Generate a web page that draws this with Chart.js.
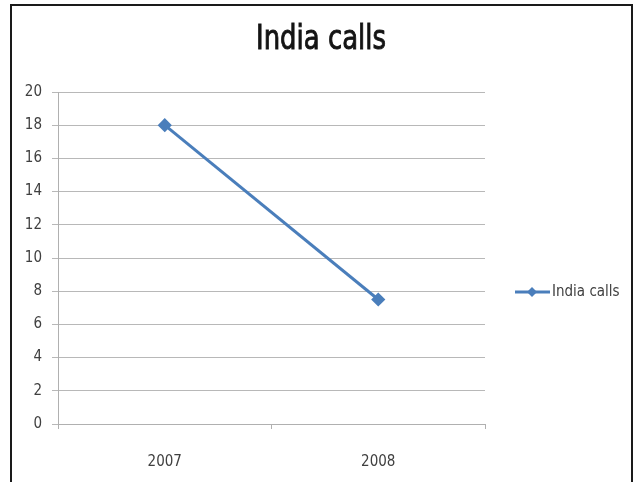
<!DOCTYPE html>
<html>
<head>
<meta charset="utf-8">
<script src="https://cdn.jsdelivr.net/npm/chart.js@4/dist/chart.umd.min.js"></script>
<style>
html,body{margin:0;padding:0;background:#fff;}
#wrap{position:relative;width:640px;height:482px;overflow:hidden;}
#frame{position:absolute;left:10px;top:4px;width:623px;height:490px;border:2px solid #1a1a1a;box-sizing:border-box;pointer-events:none;}
canvas{position:absolute;left:0;top:0;}
</style>
</head>
<body>
<div id="wrap">
<canvas id="c" width="640" height="482"></canvas>
<div id="frame"></div>
</div>
<script>
const chartTitle = "India calls";
const categories = ["2007", "2008"];
const seriesName = "India calls";
const seriesValues = [18, 7.5];
const yTicks = [0, 2, 4, 6, 8, 10, 12, 14, 16, 18, 20];

const FONT = "'DejaVu Sans Condensed', 'DejaVu Sans', sans-serif";
const BLUE = "#4a7ebb";

const titlePlugin = {
  id: 'centerTitle',
  afterDraw(chart) {
    const ctx = chart.ctx;
    ctx.save();
    ctx.font = "34px " + FONT;
    const w = ctx.measureText(chartTitle).width;
    const sx = 130 / w;
    ctx.translate(321, 49);
    ctx.scale(sx, 1);
    ctx.fillStyle = "#141414";
    ctx.strokeStyle = "#141414";
    ctx.lineWidth = 0.9;
    ctx.textAlign = "center";
    ctx.textBaseline = "alphabetic";
    ctx.fillText(chartTitle, 0, 0);
    ctx.strokeText(chartTitle, 0, 0);
    ctx.restore();
  }
};

const legendPlugin = {
  id: 'sideLegend',
  afterDraw(chart) {
    const ctx = chart.ctx;
    const ds = chart.data.datasets[0];
    const y = 292;
    ctx.save();
    ctx.strokeStyle = ds.borderColor;
    ctx.lineWidth = 3;
    ctx.beginPath();
    ctx.moveTo(515, y);
    ctx.lineTo(550, y);
    ctx.stroke();
    ctx.fillStyle = ds.pointBackgroundColor;
    ctx.beginPath();
    ctx.moveTo(532, y - 5);
    ctx.lineTo(537, y);
    ctx.lineTo(532, y + 5);
    ctx.lineTo(527, y);
    ctx.closePath();
    ctx.fill();
    ctx.fillStyle = "#404040";
    ctx.font = "15px " + FONT;
    ctx.textBaseline = "middle";
    ctx.textAlign = "left";
    ctx.fillText(ds.label, 552, y);
    ctx.restore();
  }
};

new Chart(document.getElementById('c'), {
  type: 'line',
  data: {
    labels: categories,
    datasets: [{
      label: seriesName,
      data: seriesValues,
      borderColor: BLUE,
      backgroundColor: BLUE,
      pointBackgroundColor: BLUE,
      pointBorderColor: BLUE,
      borderWidth: 3,
      pointStyle: 'rectRot',
      pointRadius: 5,
      tension: 0
    }]
  },
  options: {
    responsive: false,
    animation: false,
    layout: { padding: { left: 0, right: 155, top: 92, bottom: 0 } },
    plugins: {
      legend: { display: false },
      tooltip: { enabled: false },
      title: { display: false }
    },
    scales: {
      x: {
        offset: true,
        grid: { display: true, drawOnChartArea: false, drawTicks: true, tickLength: 5, offset: true, color: "#b0b0b0" },
        border: { color: "#b0b0b0", width: 1 },
        ticks: { color: "#404040", font: { family: FONT, size: 15 }, padding: 24 },
        afterFit(s) { s.height = 58; }
      },
      y: {
        min: 0, max: 20,
        afterBuildTicks(s) { s.ticks = yTicks.map(v => ({ value: v })); },
        grid: { color: "#b8b8b8", tickLength: 6, drawTicks: true },
        border: { color: "#b0b0b0", width: 1 },
        ticks: { color: "#404040", font: { family: FONT, size: 15 }, padding: 10 },
        afterFit(s) { s.width = 58; }
      }
    }
  },
  plugins: [titlePlugin, legendPlugin]
});
</script>
</body>
</html>
